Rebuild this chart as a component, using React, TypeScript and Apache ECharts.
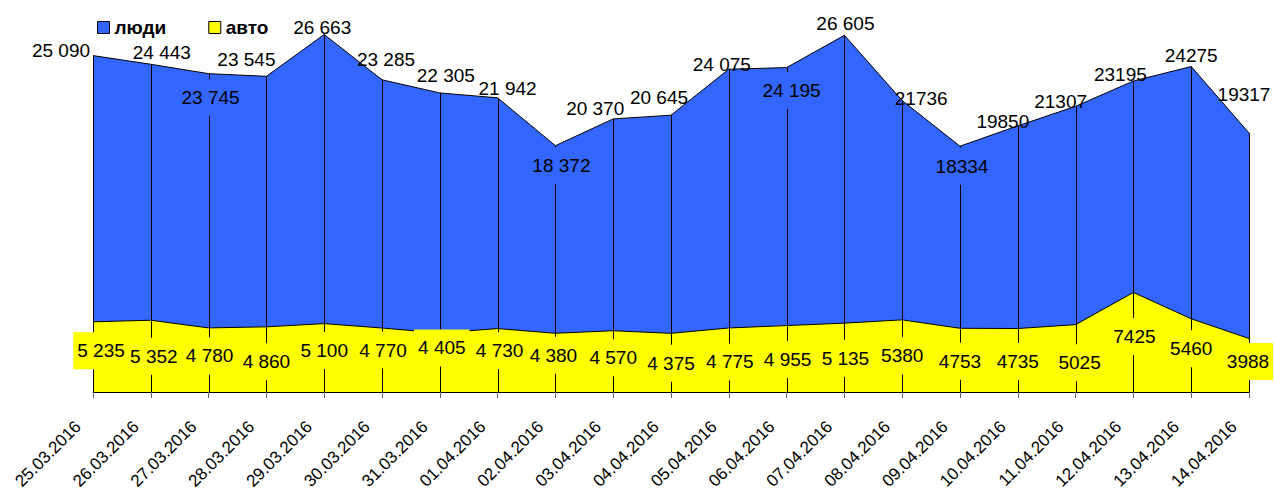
import React, { useEffect, useRef } from "react";
import * as echarts from "echarts";

const dates = [
  "25.03.2016", "26.03.2016", "27.03.2016", "28.03.2016", "29.03.2016", "30.03.2016", "31.03.2016",
  "01.04.2016", "02.04.2016", "03.04.2016", "04.04.2016", "05.04.2016", "06.04.2016", "07.04.2016",
  "08.04.2016", "09.04.2016", "10.04.2016", "11.04.2016", "12.04.2016", "13.04.2016", "14.04.2016",
];
const people = [25090, 24443, 23745, 23545, 26663, 23285, 22305, 21942, 18372, 20370, 20645, 24075, 24195, 26605, 21736, 18334, 19850, 21307, 23195, 24275, 19317];
const cars = [5235, 5352, 4780, 4860, 5100, 4770, 4405, 4730, 4380, 4570, 4375, 4775, 4955, 5135, 5380, 4753, 4735, 5025, 7425, 5460, 3988];

// label placement (relative to each point), style only
const peopleLabelOffsets = [
  [-32, -7], [11, -14], [2, 22], [-20, -19], [-2, -9], [4, -22], [6, -19], [10, -11], [6, 18], [-18, -12],
  [-12, -20], [-7, -7], [5, 21], [1, -14], [19, -4], [2, 18], [-15, -6], [-15, -7], [-13, -9], [0, -13], [-5, -41],
];
const carsLabelOffsets = [
  [8, 27], [3, 34], [1, 26], [0, 33], [0, 25], [1, 20], [2, 13], [2, 20], [-2, 20], [0, 25],
  [0, 28], [1, 32], [1, 32], [1, 33], [0, 34], [0, 31], [0, 31], [4, 36], [1, 42], [0, 28], [-1, 21],
];
const peopleLabelBelow = [2, 8, 12, 15];
const spacedCount = 14; // first labels use a thousands space
const LABEL_SHIFT = 2;

const BLUE = "#3366FF";
const YELLOW = "#FFFF00";
const FONT = "'Liberation Sans', Arial, sans-serif";

function fmt(v: number, i: number): string {
  if (i >= spacedCount) return String(v);
  const s = String(v);
  return s.slice(0, s.length - 3) + " " + s.slice(s.length - 3);
}

export default function App() {
  const ref = useRef<HTMLDivElement>(null);
  useEffect(() => {
    if (!ref.current) return;
    const chart = echarts.init(ref.current, null, { renderer: "svg" });
    const labelBase = {
      show: true,
      position: "inside",
      fontFamily: FONT,
      fontSize: 19,
      color: "#000",
      lineHeight: 19,
      opacity: 1,
    };
    const option: any = {
      animation: false,
      backgroundColor: "#fff",
      textStyle: { fontFamily: FONT },
      grid: { left: 93, right: 25, top: 30, bottom: 100, containLabel: false, outerBoundsMode: "none" },
      legend: {
        left: 92,
        top: 13,
        icon: "rect",
        itemWidth: 12,
        itemHeight: 12,
        itemGap: 42,
        textStyle: { fontFamily: FONT, fontSize: 19, fontWeight: "bold", color: "#000" },
        data: [
          { name: "люди", itemStyle: { color: BLUE, borderColor: "#000", borderWidth: 1 } },
          { name: "авто", itemStyle: { color: YELLOW, borderColor: "#000", borderWidth: 1 } },
        ],
      },
      xAxis: {
        type: "category",
        data: dates,
        boundaryGap: false,
        axisLine: { lineStyle: { color: "#000", width: 1 } },
        axisTick: { show: true, length: 6, lineStyle: { color: "#666" }, interval: 0 },
        axisLabel: {
          interval: 0,
          rotate: 45,
          margin: 17,
          fontSize: 17,
          lineHeight: 17,
          fontFamily: FONT,
          color: "#000",
          padding: [0, 21, 0, 0],
        },
        splitLine: { show: false },
      },
      yAxis: {
        type: "value",
        min: 0,
        max: 27000,
        show: false,
        splitLine: { show: false },
      },
      series: [
        {
          name: "люди",
          type: "line",
          z: 2,
          data: people,
          showSymbol: false,
          symbol: "none",
          itemStyle: { color: BLUE },
          lineStyle: { color: "#000", width: 1 },
          areaStyle: { color: BLUE, opacity: 1 },
          silent: true,
        },
        {
          name: "авто",
          type: "line",
          z: 3,
          data: cars,
          showSymbol: false,
          symbol: "none",
          itemStyle: { color: YELLOW },
          lineStyle: { color: "#000", width: 1 },
          areaStyle: { color: YELLOW, opacity: 1 },
          silent: true,
        },
        {
          name: "drop",
          type: "custom",
          z: 4,
          silent: true,
          data: people.map((v, i) => [i, v]),
          renderItem: (params: any, api: any) => {
            const top = api.coord([api.value(0), api.value(1)]);
            const bot = api.coord([api.value(0), 0]);
            const x = Math.round(top[0]) + 0.5;
            return {
              type: "line",
              shape: { x1: x, y1: top[1], x2: x, y2: bot[1] },
              style: { stroke: "#000", lineWidth: 1 },
            };
          },
        },
        {
          name: "peopleLabels",
          type: "scatter",
          z: 6,
          silent: true,
          symbolSize: 1,
          itemStyle: { color: "rgba(0,0,0,0)", opacity: 1 },
          emphasis: { disabled: true },
          data: people.map((v, i) => ({
            value: [i, v],
            label: {
              ...labelBase,
              offset: [peopleLabelOffsets[i][0], peopleLabelOffsets[i][1] + LABEL_SHIFT],
              formatter: fmt(v, i),
              ...(peopleLabelBelow.includes(i)
                ? { backgroundColor: BLUE, padding: [9, 4] }
                : {}),
            },
          })),
        },
        {
          name: "carsLabels",
          type: "scatter",
          z: 6,
          silent: true,
          symbolSize: 1,
          itemStyle: { color: "rgba(0,0,0,0)", opacity: 1 },
          emphasis: { disabled: true },
          data: cars.map((v, i) => ({
            value: [i, v],
            label: {
              ...labelBase,
              offset: [carsLabelOffsets[i][0], carsLabelOffsets[i][1] + LABEL_SHIFT],
              formatter: fmt(v, i),
              backgroundColor: YELLOW,
              padding: [9, 4],
            },
          })),
        },
      ],
    };
    chart.setOption(option);
    return () => chart.dispose();
  }, []);
  return (
    <div
      ref={ref}
      style={{ position: "fixed", left: 0, top: 0, width: 1274, height: 492 }}
    />
  );
}
